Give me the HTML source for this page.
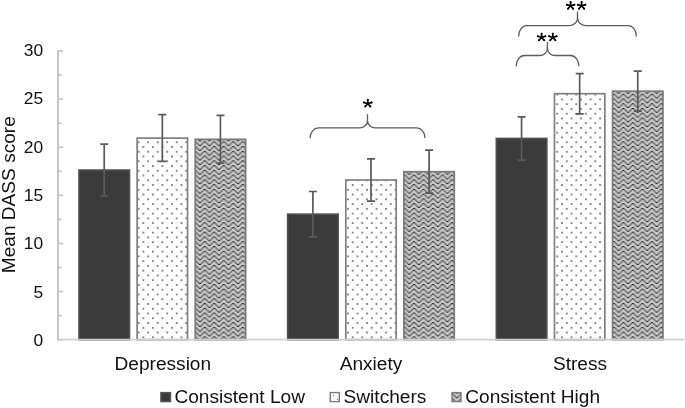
<!DOCTYPE html>
<html><head><meta charset="utf-8"><style>
html,body{margin:0;padding:0;background:#fff;width:685px;height:408px;overflow:hidden}
svg{display:block;filter:blur(0.25px)}
text{font-family:'Liberation Sans',sans-serif;fill:#111}
</style></head><body>
<svg width="685" height="408" viewBox="0 0 685 408">
<defs>
<pattern id="dots" patternUnits="userSpaceOnUse" x="5.42" y="9.02" width="9.515" height="9.515">
<rect x="-0.650" y="-0.650" width="1.3" height="1.3" fill="#000"/>
<rect x="4.107" y="4.107" width="1.3" height="1.3" fill="#000"/>
<rect x="8.865" y="-0.650" width="1.3" height="1.3" fill="#000"/>
<rect x="-0.650" y="8.865" width="1.3" height="1.3" fill="#000"/>
<rect x="8.865" y="8.865" width="1.3" height="1.3" fill="#000"/>
</pattern>
<pattern id="wave" patternUnits="userSpaceOnUse" x="0.143" y="3.355" width="9.515" height="4.7575">
<rect width="9.515" height="4.7575" fill="#c9c9c9"/>
<rect x="3.5681" y="0.0000" width="1.1914" height="1.1914" fill="#262626"/><rect x="4.7575" y="0.0000" width="1.1914" height="1.1914" fill="#262626"/><rect x="2.3788" y="1.1894" width="1.1914" height="1.1914" fill="#262626"/><rect x="5.9469" y="1.1894" width="1.1914" height="1.1914" fill="#262626"/><rect x="1.1894" y="2.3788" width="1.1914" height="1.1914" fill="#262626"/><rect x="7.1363" y="2.3788" width="1.1914" height="1.1914" fill="#262626"/><rect x="0.0000" y="3.5681" width="1.1914" height="1.1914" fill="#262626"/><rect x="8.3256" y="3.5681" width="1.1914" height="1.1914" fill="#262626"/>
</pattern>
</defs>

<line x1="58" y1="50.2" x2="58" y2="339.7" stroke="#c4c4c4" stroke-width="1.9"/>
<line x1="58" y1="339.70" x2="63" y2="339.70" stroke="#c4c4c4" stroke-width="1.7"/>
<line x1="58" y1="315.64" x2="61.6" y2="315.64" stroke="#c4c4c4" stroke-width="1.7"/>
<line x1="58" y1="291.58" x2="63" y2="291.58" stroke="#c4c4c4" stroke-width="1.7"/>
<line x1="58" y1="267.53" x2="61.6" y2="267.53" stroke="#c4c4c4" stroke-width="1.7"/>
<line x1="58" y1="243.47" x2="63" y2="243.47" stroke="#c4c4c4" stroke-width="1.7"/>
<line x1="58" y1="219.41" x2="61.6" y2="219.41" stroke="#c4c4c4" stroke-width="1.7"/>
<line x1="58" y1="195.35" x2="63" y2="195.35" stroke="#c4c4c4" stroke-width="1.7"/>
<line x1="58" y1="171.30" x2="61.6" y2="171.30" stroke="#c4c4c4" stroke-width="1.7"/>
<line x1="58" y1="147.24" x2="63" y2="147.24" stroke="#c4c4c4" stroke-width="1.7"/>
<line x1="58" y1="123.18" x2="61.6" y2="123.18" stroke="#c4c4c4" stroke-width="1.7"/>
<line x1="58" y1="99.12" x2="63" y2="99.12" stroke="#c4c4c4" stroke-width="1.7"/>
<line x1="58" y1="75.07" x2="61.6" y2="75.07" stroke="#c4c4c4" stroke-width="1.7"/>
<line x1="58" y1="51.01" x2="63" y2="51.01" stroke="#c4c4c4" stroke-width="1.7"/>
<text x="43.1" y="346.25" text-anchor="end" font-size="17.4">0</text>
<text x="43.1" y="297.87" text-anchor="end" font-size="17.4">5</text>
<text x="43.1" y="249.48" text-anchor="end" font-size="17.4">10</text>
<text x="43.1" y="201.09" text-anchor="end" font-size="17.4">15</text>
<text x="43.1" y="152.71" text-anchor="end" font-size="17.4">20</text>
<text x="43.1" y="104.33" text-anchor="end" font-size="17.4">25</text>
<text x="43.1" y="55.94" text-anchor="end" font-size="17.4">30</text>
<rect x="79.03" y="170.10" width="50.4" height="169.60" fill="#3b3b3b" stroke="#4e4e4e" stroke-width="1.7"/>
<rect x="287.70" y="214.20" width="50.4" height="125.50" fill="#3b3b3b" stroke="#4e4e4e" stroke-width="1.7"/>
<rect x="496.37" y="138.50" width="50.4" height="201.20" fill="#3b3b3b" stroke="#4e4e4e" stroke-width="1.7"/>
<rect x="137.13" y="138.10" width="50.4" height="201.60" fill="#fff"/>
<rect x="137.13" y="138.10" width="50.4" height="201.60" fill="url(#dots)" stroke="#808080" stroke-width="1.7"/>
<rect x="345.80" y="180.00" width="50.4" height="159.70" fill="#fff"/>
<rect x="345.80" y="180.00" width="50.4" height="159.70" fill="url(#dots)" stroke="#808080" stroke-width="1.7"/>
<rect x="554.47" y="93.70" width="50.4" height="246.00" fill="#fff"/>
<rect x="554.47" y="93.70" width="50.4" height="246.00" fill="url(#dots)" stroke="#808080" stroke-width="1.7"/>
<rect x="195.23" y="139.30" width="50.4" height="200.40" fill="url(#wave)" stroke="#7a7a7a" stroke-width="1.7"/>
<rect x="403.90" y="171.70" width="50.4" height="168.00" fill="url(#wave)" stroke="#7a7a7a" stroke-width="1.7"/>
<rect x="612.57" y="91.20" width="50.4" height="248.50" fill="url(#wave)" stroke="#7a7a7a" stroke-width="1.7"/>
<line x1="57" y1="339.7" x2="684" y2="339.7" stroke="#cfcfcf" stroke-width="1.8"/>
<path d="M104.23,144.2 V196.0 M100.23,144.2 H108.23 M100.23,196.0 H108.23" stroke="#5a5a5a" stroke-width="1.7" fill="none"/>
<path d="M312.90,191.5 V236.9 M308.90,191.5 H316.90 M308.90,236.9 H316.90" stroke="#5a5a5a" stroke-width="1.7" fill="none"/>
<path d="M521.57,116.9 V160.2 M517.57,116.9 H525.57 M517.57,160.2 H525.57" stroke="#5a5a5a" stroke-width="1.7" fill="none"/>
<path d="M162.33,114.7 V161.4 M158.33,114.7 H166.33 M158.33,161.4 H166.33" stroke="#5a5a5a" stroke-width="1.7" fill="none"/>
<path d="M371.00,158.9 V201.2 M367.00,158.9 H375.00 M367.00,201.2 H375.00" stroke="#5a5a5a" stroke-width="1.7" fill="none"/>
<path d="M579.67,73.7 V113.8 M575.67,73.7 H583.67 M575.67,113.8 H583.67" stroke="#5a5a5a" stroke-width="1.7" fill="none"/>
<path d="M220.43,115.3 V163.1 M216.43,115.3 H224.43 M216.43,163.1 H224.43" stroke="#5a5a5a" stroke-width="1.7" fill="none"/>
<path d="M429.10,150.2 V193.1 M425.10,150.2 H433.10 M425.10,193.1 H433.10" stroke="#5a5a5a" stroke-width="1.7" fill="none"/>
<path d="M637.77,71.2 V111.2 M633.77,71.2 H641.77 M633.77,111.2 H641.77" stroke="#5a5a5a" stroke-width="1.7" fill="none"/>
<path d="M310.1,137.9 A8.3,9.950000000000003 0 0 1 318.40,127.95 L359.70,127.95 A7.8,7.2 0 0 0 367.5,120.75 L367.5,114.3 M367.5,120.75 A7.8,7.2 0 0 0 375.30,127.95 L416.70,127.95 A8.3,9.950000000000003 0 0 1 425.0,137.9" stroke="#5c5c5c" stroke-width="1.3" fill="none"/>
<path d="M516.2,66.2 A8.3,10.700000000000003 0 0 1 524.50,55.5 L539.60,55.5 A7.8,6.9 0 0 0 547.4,48.60 L547.4,42.1 M547.4,48.60 A7.8,6.9 0 0 0 555.20,55.5 L570.60,55.5 A8.3,10.700000000000003 0 0 1 578.9,66.2" stroke="#5c5c5c" stroke-width="1.3" fill="none"/>
<path d="M518.6,36.4 A8.3,10.849999999999998 0 0 1 526.90,25.55 L569.70,25.55 A7.8,7.6 0 0 0 577.5,17.95 L577.5,11.5 M577.5,17.95 A7.8,7.6 0 0 0 585.30,25.55 L628.10,25.55 A8.3,10.849999999999998 0 0 1 636.4,36.4" stroke="#5c5c5c" stroke-width="1.3" fill="none"/>
<path d="M367.80,103.60 L367.80,99.85 M367.80,103.60 L364.00,102.45 M367.80,103.60 L371.60,102.45 M367.80,103.60 L365.25,106.45 M367.80,103.60 L370.35,106.45 " stroke="#000" stroke-width="1.65" stroke-linecap="round" fill="none"/><circle cx="367.80" cy="99.85" r="1.0" fill="#000"/><circle cx="364.00" cy="102.45" r="1.0" fill="#000"/><circle cx="371.60" cy="102.45" r="1.0" fill="#000"/><circle cx="365.25" cy="106.45" r="1.0" fill="#000"/><circle cx="370.35" cy="106.45" r="1.0" fill="#000"/>
<path d="M541.60,37.40 L541.60,33.65 M541.60,37.40 L537.80,36.25 M541.60,37.40 L545.40,36.25 M541.60,37.40 L539.05,40.25 M541.60,37.40 L544.15,40.25 " stroke="#000" stroke-width="1.65" stroke-linecap="round" fill="none"/><circle cx="541.60" cy="33.65" r="1.0" fill="#000"/><circle cx="537.80" cy="36.25" r="1.0" fill="#000"/><circle cx="545.40" cy="36.25" r="1.0" fill="#000"/><circle cx="539.05" cy="40.25" r="1.0" fill="#000"/><circle cx="544.15" cy="40.25" r="1.0" fill="#000"/>
<path d="M552.80,37.40 L552.80,33.65 M552.80,37.40 L549.00,36.25 M552.80,37.40 L556.60,36.25 M552.80,37.40 L550.25,40.25 M552.80,37.40 L555.35,40.25 " stroke="#000" stroke-width="1.65" stroke-linecap="round" fill="none"/><circle cx="552.80" cy="33.65" r="1.0" fill="#000"/><circle cx="549.00" cy="36.25" r="1.0" fill="#000"/><circle cx="556.60" cy="36.25" r="1.0" fill="#000"/><circle cx="550.25" cy="40.25" r="1.0" fill="#000"/><circle cx="555.35" cy="40.25" r="1.0" fill="#000"/>
<path d="M570.60,5.80 L570.60,2.05 M570.60,5.80 L566.80,4.65 M570.60,5.80 L574.40,4.65 M570.60,5.80 L568.05,8.65 M570.60,5.80 L573.15,8.65 " stroke="#000" stroke-width="1.65" stroke-linecap="round" fill="none"/><circle cx="570.60" cy="2.05" r="1.0" fill="#000"/><circle cx="566.80" cy="4.65" r="1.0" fill="#000"/><circle cx="574.40" cy="4.65" r="1.0" fill="#000"/><circle cx="568.05" cy="8.65" r="1.0" fill="#000"/><circle cx="573.15" cy="8.65" r="1.0" fill="#000"/>
<path d="M581.60,5.80 L581.60,2.05 M581.60,5.80 L577.80,4.65 M581.60,5.80 L585.40,4.65 M581.60,5.80 L579.05,8.65 M581.60,5.80 L584.15,8.65 " stroke="#000" stroke-width="1.65" stroke-linecap="round" fill="none"/><circle cx="581.60" cy="2.05" r="1.0" fill="#000"/><circle cx="577.80" cy="4.65" r="1.0" fill="#000"/><circle cx="585.40" cy="4.65" r="1.0" fill="#000"/><circle cx="579.05" cy="8.65" r="1.0" fill="#000"/><circle cx="584.15" cy="8.65" r="1.0" fill="#000"/>
<text x="162.83" y="369.6" text-anchor="middle" font-size="19.1">Depression</text>
<text x="371.00" y="369.6" text-anchor="middle" font-size="19.1">Anxiety</text>
<text x="579.97" y="369.6" text-anchor="middle" font-size="19.1">Stress</text>
<text transform="translate(14.6,194.7) rotate(-90)" text-anchor="middle" font-size="19.1">Mean DASS score</text>
<rect x="160.9" y="392.6" width="9.6" height="9.0" fill="#3b3b3b" stroke="#555" stroke-width="1.4"/>
<text x="174.4" y="403" font-size="19.1">Consistent Low</text>
<rect x="330.3" y="392.6" width="9.0" height="9.0" fill="#fff" stroke="#7a7a7a" stroke-width="1.4"/>
<rect x="333" y="395" width="1" height="1" fill="#666"/><rect x="337" y="399" width="1" height="1" fill="#666"/>
<text x="343.6" y="403" font-size="19.1">Switchers</text>
<rect x="452" y="392.6" width="9.0" height="9.0" fill="url(#wave)" stroke="#7a7a7a" stroke-width="1.4"/>
<text x="465.3" y="403" font-size="19.1">Consistent High</text>
</svg></body></html>
